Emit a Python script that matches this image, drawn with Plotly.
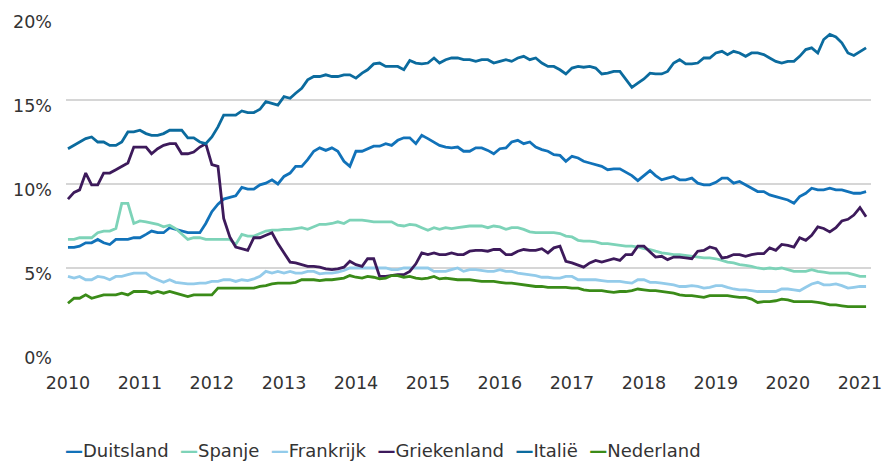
import pandas as pd
import plotly.graph_objects as go

# Monthly observations, January 2010 .. February 2021
dates = pd.date_range("2010-01-01", periods=134, freq="MS")

duitsland = [6.23, 6.23, 6.3, 6.5, 6.5, 6.7, 6.5, 6.4, 6.7, 6.7,
             6.7, 6.8, 6.8, 7.0, 7.2, 7.1, 7.1, 7.4, 7.3, 7.2,
             7.1, 7.1, 7.1, 7.65, 8.35, 8.8, 9.1, 9.2, 9.3, 9.8,
             9.7, 9.7, 9.95, 10.05, 10.25, 10.0, 10.45, 10.65, 11.05, 11.05,
             11.45, 11.95, 12.15, 12.0, 12.15, 11.95, 11.35, 11.05, 11.95, 11.95,
             12.1, 12.25, 12.25, 12.4, 12.3, 12.6, 12.75, 12.75, 12.4, 12.9,
             12.7, 12.5, 12.3, 12.2, 12.15, 12.2, 11.95, 11.95, 12.15, 12.15,
             12.0, 11.8, 12.1, 12.15, 12.5, 12.6, 12.4, 12.5, 12.2, 12.05,
             11.95, 11.75, 11.7, 11.35, 11.65, 11.55, 11.35, 11.25, 11.15, 11.05,
             10.85, 10.9, 10.9, 10.7, 10.5, 10.2, 10.5, 10.8, 10.5, 10.25,
             10.35, 10.45, 10.25, 10.25, 10.35, 10.05, 9.95, 9.95, 10.1, 10.35,
             10.35, 10.05, 10.15, 9.95, 9.75, 9.55, 9.55, 9.35, 9.25, 9.15,
             9.05, 8.85, 9.25, 9.45, 9.75, 9.65, 9.65, 9.75, 9.65, 9.65,
             9.55, 9.45, 9.45, 9.55]

spanje = [6.7, 6.7, 6.8, 6.8, 6.8, 7.1, 7.2, 7.2, 7.35, 8.85,
          8.85, 7.65, 7.8, 7.75, 7.7, 7.6, 7.45, 7.55, 7.35, 7.0,
          6.7, 6.8, 6.8, 6.7, 6.7, 6.7, 6.7, 6.7, 6.4, 7.0,
          6.9, 6.9, 7.05, 7.2, 7.25, 7.25, 7.3, 7.3, 7.35, 7.4,
          7.3, 7.45, 7.6, 7.6, 7.65, 7.75, 7.65, 7.85, 7.85, 7.85,
          7.8, 7.75, 7.75, 7.75, 7.75, 7.55, 7.5, 7.6, 7.55, 7.4,
          7.25, 7.4, 7.3, 7.4, 7.35, 7.4, 7.45, 7.5, 7.5, 7.5,
          7.4, 7.5, 7.45, 7.3, 7.4, 7.4, 7.3, 7.15, 7.1, 7.1,
          7.1, 7.1, 7.05, 6.9, 6.85, 6.65, 6.6, 6.6, 6.55, 6.45,
          6.45, 6.4, 6.35, 6.3, 6.3, 6.25, 6.15, 6.1, 6.0, 5.9,
          5.85, 5.8, 5.8, 5.75, 5.7, 5.65, 5.6, 5.6, 5.55, 5.45,
          5.35, 5.3, 5.2, 5.15, 5.1, 5.0, 4.95, 5.0, 4.95, 5.0,
          4.9, 4.8, 4.8, 4.8, 4.9, 4.8, 4.75, 4.7, 4.7, 4.7,
          4.7, 4.6, 4.5, 4.5]

frankrijk = [4.5, 4.4, 4.5, 4.3, 4.3, 4.5, 4.45, 4.3, 4.5, 4.5,
             4.6, 4.7, 4.7, 4.7, 4.45, 4.3, 4.15, 4.3, 4.15, 4.1,
             4.05, 4.05, 4.1, 4.1, 4.2, 4.2, 4.3, 4.3, 4.2, 4.3,
             4.25, 4.35, 4.5, 4.8, 4.7, 4.8, 4.7, 4.8, 4.7, 4.7,
             4.8, 4.8, 4.65, 4.7, 4.7, 4.75, 4.85, 5.0, 5.0, 5.0,
             5.0, 5.0, 5.0, 5.0, 4.9, 4.9, 5.0, 5.0, 5.0, 5.0,
             5.0, 4.8, 4.8, 4.8, 4.9, 5.0, 4.8, 4.9, 4.9, 4.85,
             4.8, 4.8, 4.9, 4.8, 4.8, 4.7, 4.65, 4.6, 4.55, 4.45,
             4.45, 4.4, 4.4, 4.5, 4.5, 4.3, 4.3, 4.3, 4.3, 4.25,
             4.2, 4.2, 4.2, 4.15, 4.1, 4.3, 4.3, 4.15, 4.15, 4.1,
             4.05, 4.0, 3.9, 3.9, 3.95, 3.9, 3.8, 3.85, 3.95, 3.95,
             3.85, 3.75, 3.7, 3.7, 3.65, 3.6, 3.6, 3.6, 3.6, 3.75,
             3.75, 3.7, 3.65, 3.85, 4.05, 4.15, 4.0, 4.0, 4.05, 3.95,
             3.8, 3.85, 3.9, 3.9]

griekenland = [9.1, 9.5, 9.65, 10.65, 9.95, 9.95, 10.65, 10.65, 10.85, 11.05,
               11.25, 12.2, 12.2, 12.2, 11.8, 12.1, 12.3, 12.4, 12.4, 11.8,
               11.8, 11.9, 12.2, 12.4, 11.15, 11.05, 7.95, 6.85, 6.25, 6.15,
               6.05, 6.8, 6.8, 6.95, 7.1, 6.45, 5.9, 5.35, 5.3, 5.2,
               5.1, 5.1, 5.05, 4.95, 4.9, 4.95, 5.05, 5.4, 5.2, 5.1,
               5.55, 5.55, 4.5, 4.5, 4.55, 4.6, 4.6, 4.8, 5.25, 5.9,
               5.8, 5.9, 5.8, 5.8, 5.9, 5.8, 5.8, 6.0, 6.05, 6.05,
               6.0, 6.1, 6.1, 5.8, 5.8, 6.0, 6.1, 6.05, 6.05, 6.15,
               5.9, 6.2, 6.3, 5.4, 5.3, 5.15, 5.05, 5.3, 5.45, 5.35,
               5.45, 5.55, 5.45, 5.8, 5.8, 6.3, 6.3, 5.95, 5.65, 5.7,
               5.5, 5.65, 5.65, 5.6, 5.55, 6.0, 6.05, 6.25, 6.15, 5.6,
               5.65, 5.8, 5.8, 5.7, 5.8, 5.85, 5.85, 6.2, 6.05, 6.4,
               6.35, 6.25, 6.8, 6.65, 6.95, 7.45, 7.35, 7.15, 7.4, 7.8,
               7.9, 8.15, 8.6, 8.05]

italie = [12.1, 12.3, 12.5, 12.7, 12.8, 12.5, 12.5, 12.3, 12.3, 12.5,
          13.1, 13.1, 13.2, 13.0, 12.9, 12.9, 13.0, 13.2, 13.2, 13.2,
          12.75, 12.75, 12.5, 12.4, 12.8, 13.4, 14.1, 14.1, 14.1, 14.35,
          14.25, 14.25, 14.45, 14.9, 14.8, 14.7, 15.2, 15.1, 15.4, 15.7,
          16.2, 16.4, 16.4, 16.5, 16.4, 16.4, 16.5, 16.5, 16.3, 16.6,
          16.8, 17.15, 17.2, 17.0, 17.0, 17.0, 16.8, 17.35, 17.2, 17.15,
          17.2, 17.5, 17.2, 17.4, 17.5, 17.5, 17.4, 17.4, 17.3, 17.4,
          17.4, 17.2, 17.3, 17.4, 17.3, 17.5, 17.6, 17.4, 17.5, 17.2,
          17.0, 17.0, 16.8, 16.55, 16.9, 17.0, 16.95, 17.0, 16.9, 16.55,
          16.6, 16.7, 16.7, 16.2, 15.75, 16.0, 16.25, 16.6, 16.55, 16.55,
          16.7, 17.2, 17.4, 17.15, 17.15, 17.2, 17.5, 17.5, 17.8, 17.9,
          17.7, 17.9, 17.8, 17.6, 17.8, 17.8, 17.7, 17.5, 17.3, 17.2,
          17.3, 17.3, 17.6, 18.0, 18.1, 17.8, 18.6, 18.9, 18.75, 18.4,
          17.8, 17.65, 17.85, 18.1]

nederland = [2.9, 3.2, 3.2, 3.4, 3.2, 3.3, 3.4, 3.4, 3.4, 3.5,
             3.4, 3.6, 3.6, 3.6, 3.5, 3.6, 3.5, 3.6, 3.5, 3.4,
             3.3, 3.4, 3.4, 3.4, 3.4, 3.8, 3.8, 3.8, 3.8, 3.8,
             3.8, 3.8, 3.9, 3.95, 4.05, 4.1, 4.1, 4.1, 4.15, 4.3,
             4.3, 4.3, 4.25, 4.3, 4.3, 4.35, 4.4, 4.55, 4.45, 4.4,
             4.5, 4.45, 4.35, 4.4, 4.55, 4.55, 4.45, 4.5, 4.4, 4.35,
             4.4, 4.5, 4.35, 4.4, 4.35, 4.3, 4.3, 4.3, 4.25, 4.2,
             4.2, 4.2, 4.15, 4.1, 4.1, 4.05, 4.0, 3.95, 3.9, 3.9,
             3.85, 3.85, 3.85, 3.85, 3.8, 3.8, 3.7, 3.65, 3.65, 3.65,
             3.6, 3.55, 3.6, 3.6, 3.65, 3.75, 3.7, 3.65, 3.65, 3.6,
             3.55, 3.5, 3.4, 3.35, 3.35, 3.3, 3.25, 3.35, 3.35, 3.35,
             3.35, 3.3, 3.25, 3.25, 3.15, 2.95, 3.0, 3.0, 3.05, 3.15,
             3.1, 3.0, 3.0, 3.0, 3.0, 2.95, 2.9, 2.8, 2.8, 2.75,
             2.7, 2.7, 2.7, 2.7]

series_names = ["Duitsland", "Spanje", "Frankrijk", "Griekenland", "Italië", "Nederland"]
series_values = [duitsland, spanje, frankrijk, griekenland, italie, nederland]
series_colors = ["#1172b9", "#7dd3b8", "#93cbea", "#3d1a5b", "#0b6b9e", "#3a8b18"]

year_ticks = [f"{y}-01-01" for y in range(2010, 2022)]
year_labels = [str(y) for y in range(2010, 2022)]
y_ticks = [0, 5, 10, 15, 20]
y_labels = ["0%", "5%", "10%", "15%", "20%"]

FONT = "DejaVu Sans"
TXT = "#333333"

fig = go.Figure()
for name, vals, col in zip(series_names, series_values, series_colors):
    fig.add_trace(go.Scatter(x=dates, y=vals, name=name, mode="lines",
                             line=dict(color=col, width=2.8), showlegend=False))

# legend row as text
parts = []
for name, col in zip(series_names, series_colors):
    parts.append(f"<b><span style='color:{col}'>—</span></b>{name}")
legend_text = "\u00a0\u00a0".join(parts)
fig.add_annotation(text=legend_text, xref="paper", yref="paper", x=-0.004, y=-0.292,
                   xanchor="left", yanchor="middle", showarrow=False,
                   font=dict(family=FONT, size=18, color=TXT))

# page body adds an 8px offset; margins compensate for it
fig.update_layout(
    width=892, height=462,
    margin=dict(l=58, r=29, t=8, b=118),
    paper_bgcolor="white", plot_bgcolor="white",
    font=dict(family=FONT, size=17.5, color=TXT),
    showlegend=False,
)
fig.update_xaxes(type="date", range=["2009-12-22", "2021-02-26"],
                 tickmode="array", tickvals=year_ticks, ticktext=year_labels,
                 showgrid=False, zeroline=False, showline=False, ticks="",
                 ticklabelstandoff=18, automargin=False,
                 tickfont=dict(family=FONT, size=17.5, color=TXT))
fig.update_yaxes(range=[0, 20], autorange=False, tickmode="array",
                 tickvals=y_ticks, ticktext=y_labels,
                 showgrid=True, gridcolor="#d6d6d6", gridwidth=1.5,
                 zeroline=False, showline=False, ticks="",
                 ticklabelstandoff=13, ticklabelshift=6, automargin=False,
                 tickfont=dict(family=FONT, size=17.5, color=TXT))

fig.write_html("out.html")
